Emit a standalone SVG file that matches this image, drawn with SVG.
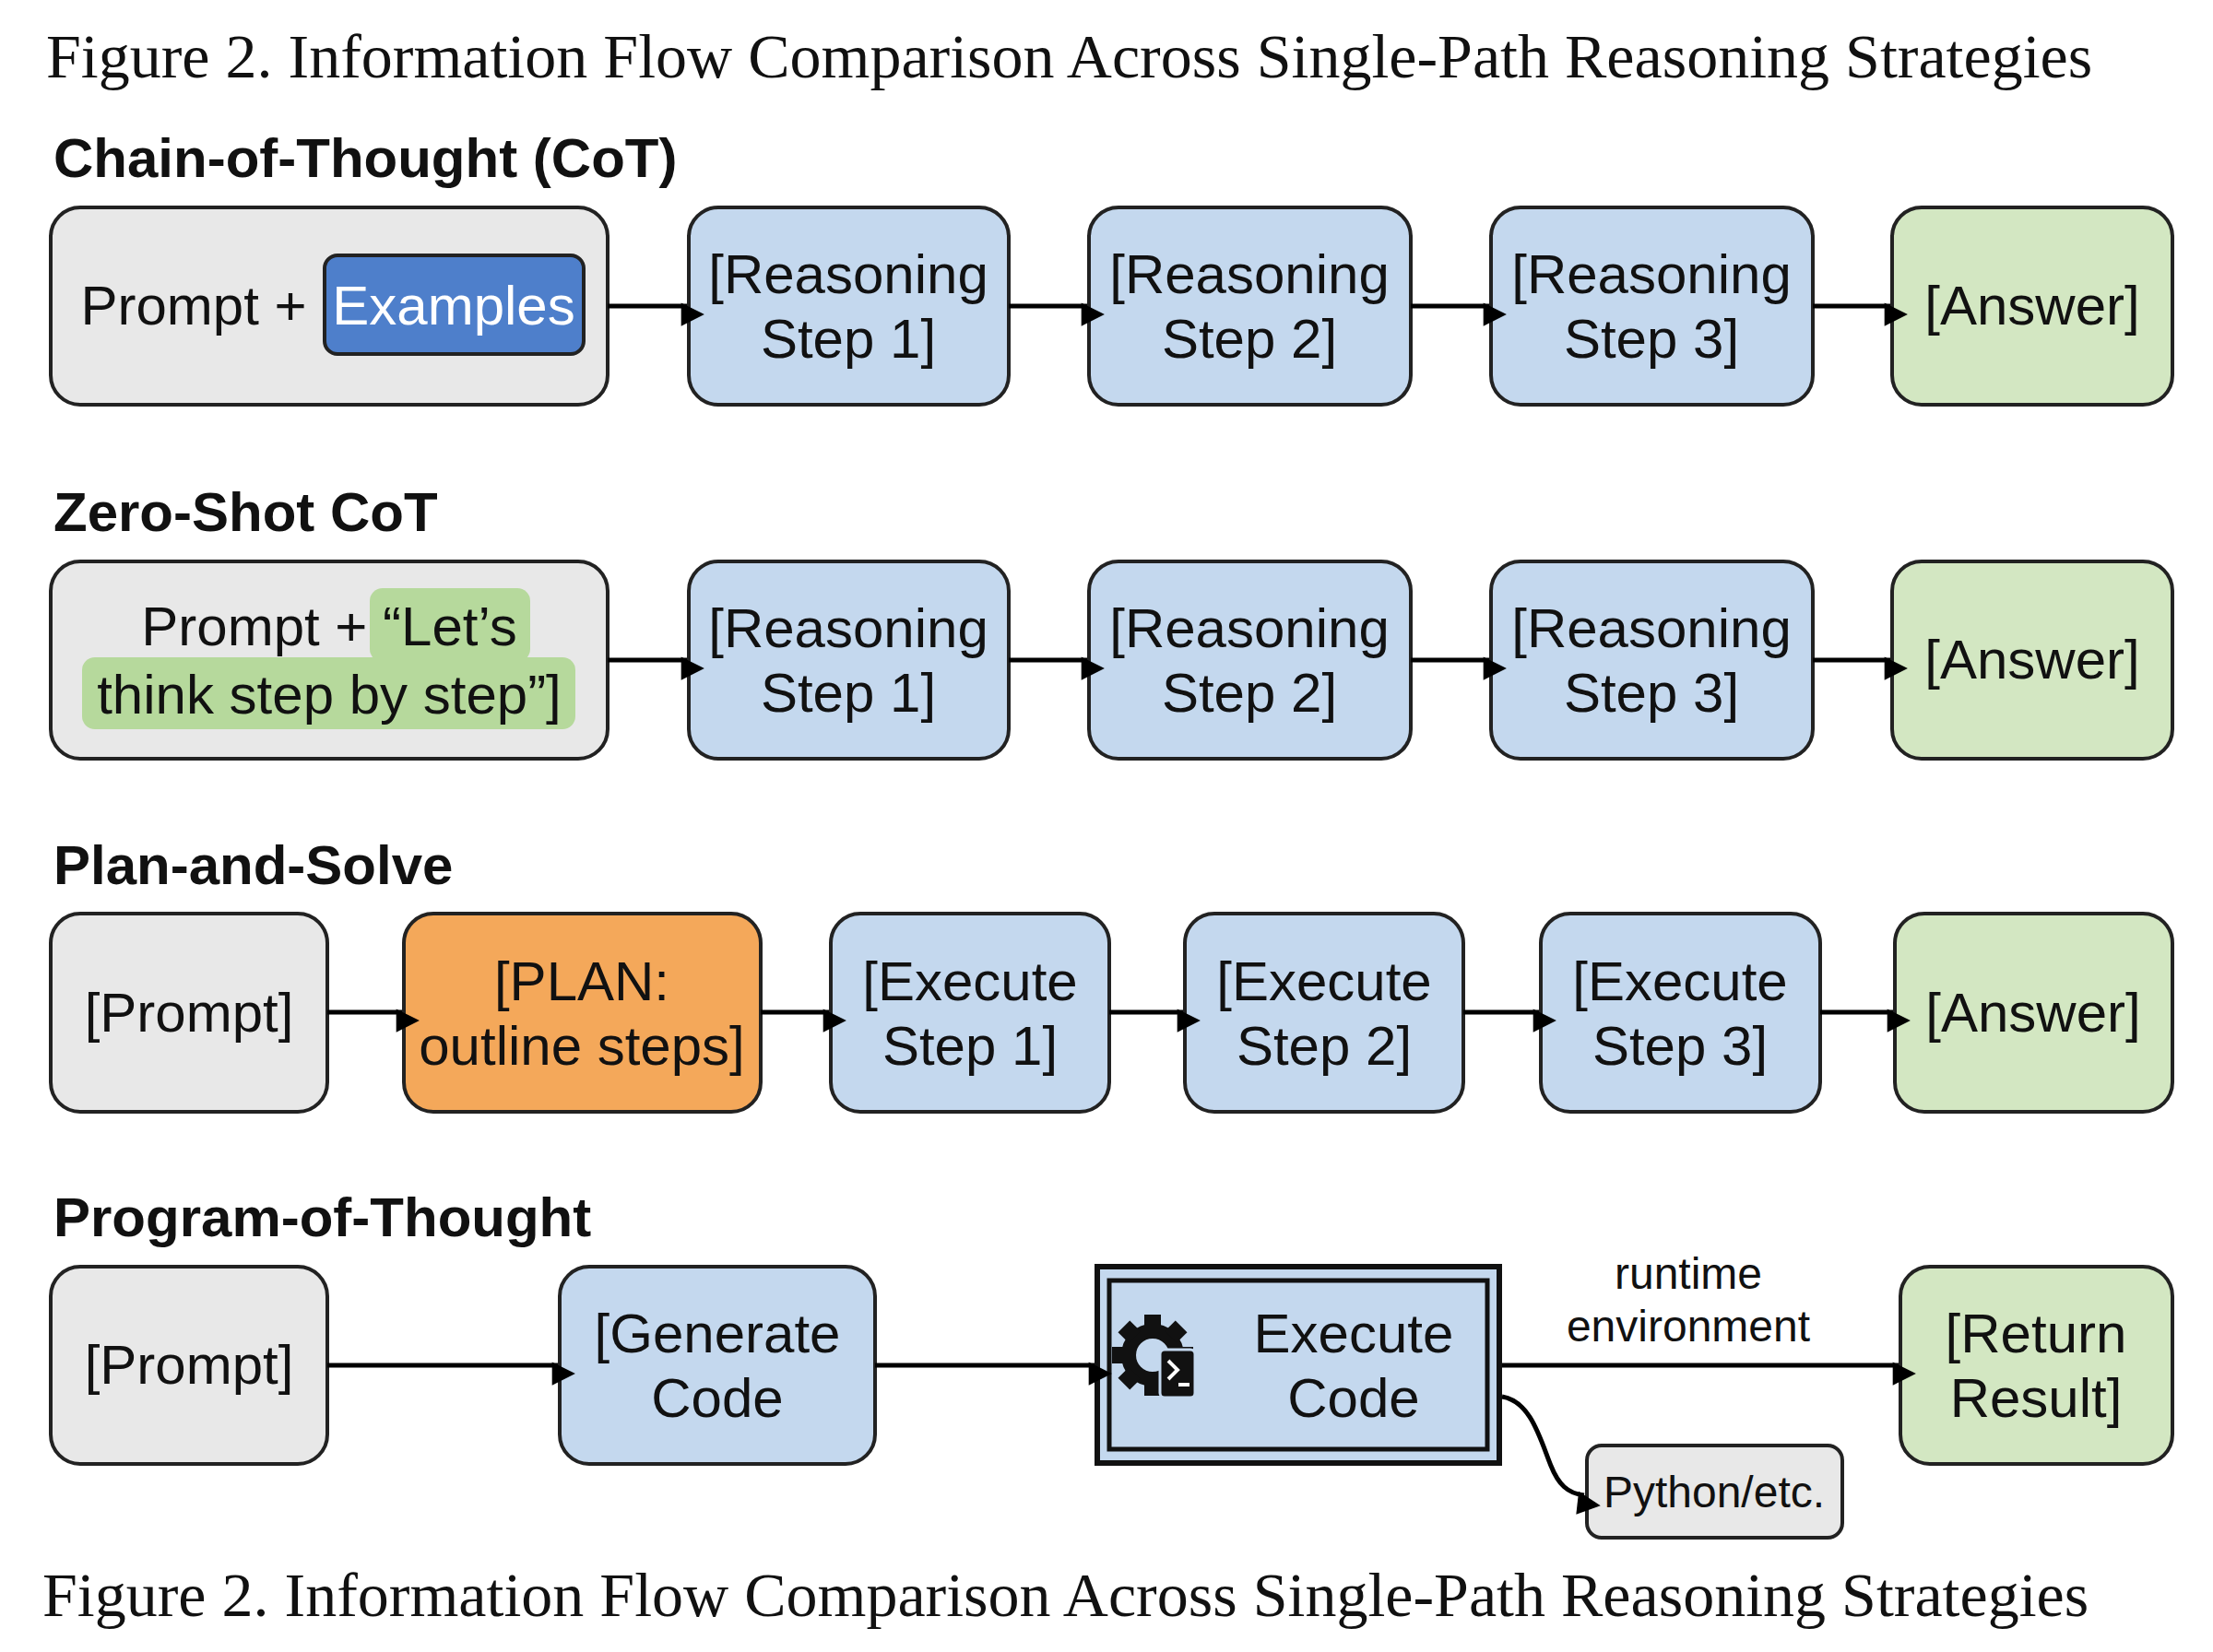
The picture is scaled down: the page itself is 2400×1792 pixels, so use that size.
<svg xmlns="http://www.w3.org/2000/svg" width="2400" height="1792" viewBox="0 0 2400 1792">
<style>
.cap{font-family:"Liberation Serif",serif;font-size:68px;fill:#111}
.h{font-family:"Liberation Sans",Arial,sans-serif;font-size:60px;font-weight:bold;fill:#111}
.t{font-family:"Liberation Sans",Arial,sans-serif;font-size:60px;fill:#111;text-anchor:middle}
.s{font-family:"Liberation Sans",Arial,sans-serif;font-size:48px;fill:#111;text-anchor:middle}
.g{fill:#e8e8e8;stroke:#222;stroke-width:4}
.b{fill:#c4d8ee;stroke:#222;stroke-width:4}
.gr{fill:#d3e7c2;stroke:#222;stroke-width:4}
.o{fill:#f4a85a;stroke:#222;stroke-width:4}
.c{stroke:#000;stroke-width:5;fill:none;marker-end:url(#a)}
</style>
<defs><marker id="a" viewBox="0 0 10 10" refX="9" refY="5" markerWidth="7" markerHeight="7" markerUnits="userSpaceOnUse" orient="auto" style="overflow:visible"><path d="M0,0L10,5L0,10z" transform="scale(3.6) translate(-7.5,-5) translate(7.5,5) translate(-5,-5) translate(5,5)"/></marker></defs>
<rect width="2400" height="1792" fill="#fff"/>
<text class="cap" x="50" y="84">Figure 2. Information Flow Comparison Across Single-Path Reasoning Strategies</text>
<text class="cap" x="46" y="1753">Figure 2. Information Flow Comparison Across Single-Path Reasoning Strategies</text>
<text class="h" x="58" y="192">Chain-of-Thought (CoT)</text>
<text class="h" x="58" y="576">Zero-Shot CoT</text>
<text class="h" x="58" y="959">Plan-and-Solve</text>
<text class="h" x="58" y="1341">Program-of-Thought</text>

<g id="cot_prompt"><rect class="g" x="55" y="225" width="604" height="214" rx="32"/><rect x="352" y="277" width="281" height="107" rx="14" fill="#4e7fcb" stroke="#222" stroke-width="4"/><text class="t" x="210" y="352">Prompt +</text><text class="t" x="492" y="352" style="fill:#fff">Examples</text></g>
<g id="cot_s1"><rect class="b" x="747" y="225" width="347" height="214" rx="32"/><text class="t" x="920" y="318">[Reasoning</text><text class="t" x="920" y="388">Step 1]</text></g>
<g id="cot_s2"><rect class="b" x="1181" y="225" width="349" height="214" rx="32"/><text class="t" x="1355" y="318">[Reasoning</text><text class="t" x="1355" y="388">Step 2]</text></g>
<g id="cot_s3"><rect class="b" x="1617" y="225" width="349" height="214" rx="32"/><text class="t" x="1791" y="318">[Reasoning</text><text class="t" x="1791" y="388">Step 3]</text></g>
<g id="cot_ans"><rect class="gr" x="2052" y="225" width="304" height="214" rx="32"/><text class="t" x="2204" y="352">[Answer]</text></g>

<g id="zs_prompt"><rect class="g" x="55" y="609" width="604" height="214" rx="32"/><rect x="401" y="638" width="174" height="80" rx="14" fill="#b6d99c"/><rect x="89" y="713" width="535" height="78" rx="14" fill="#b6d99c"/><text class="t" x="357" y="700">Prompt + “Let’s</text><text class="t" x="357" y="774">think step by step”]</text></g>
<g id="zs_s1"><rect class="b" x="747" y="609" width="347" height="214" rx="32"/><text class="t" x="920" y="702">[Reasoning</text><text class="t" x="920" y="772">Step 1]</text></g>
<g id="zs_s2"><rect class="b" x="1181" y="609" width="349" height="214" rx="32"/><text class="t" x="1355" y="702">[Reasoning</text><text class="t" x="1355" y="772">Step 2]</text></g>
<g id="zs_s3"><rect class="b" x="1617" y="609" width="349" height="214" rx="32"/><text class="t" x="1791" y="702">[Reasoning</text><text class="t" x="1791" y="772">Step 3]</text></g>
<g id="zs_ans"><rect class="gr" x="2052" y="609" width="304" height="214" rx="32"/><text class="t" x="2204" y="736">[Answer]</text></g>

<g id="ps_prompt"><rect class="g" x="55" y="991" width="300" height="215" rx="32"/><text class="t" x="205" y="1119">[Prompt]</text></g>
<g id="ps_plan"><rect class="o" x="438" y="991" width="387" height="215" rx="32"/><text class="t" x="631" y="1085">[PLAN:</text><text class="t" x="631" y="1155">outline steps]</text></g>
<g id="ps_e1"><rect class="b" x="901" y="991" width="302" height="215" rx="32"/><text class="t" x="1052" y="1085">[Execute</text><text class="t" x="1052" y="1155">Step 1]</text></g>
<g id="ps_e2"><rect class="b" x="1285" y="991" width="302" height="215" rx="32"/><text class="t" x="1436" y="1085">[Execute</text><text class="t" x="1436" y="1155">Step 2]</text></g>
<g id="ps_e3"><rect class="b" x="1671" y="991" width="303" height="215" rx="32"/><text class="t" x="1822" y="1085">[Execute</text><text class="t" x="1822" y="1155">Step 3]</text></g>
<g id="ps_ans"><rect class="gr" x="2055" y="991" width="301" height="215" rx="32"/><text class="t" x="2205" y="1119">[Answer]</text></g>

<g id="pot_prompt"><rect class="g" x="55" y="1374" width="300" height="214" rx="32"/><text class="t" x="205" y="1501">[Prompt]</text></g>
<g id="pot_gen"><rect class="b" x="607" y="1374" width="342" height="214" rx="32"/><text class="t" x="778" y="1467">[Generate</text><text class="t" x="778" y="1537">Code</text></g>
<g id="pot_exec"><rect x="1190" y="1374" width="436" height="213" fill="#c4d8ee" stroke="#111" stroke-width="6"/><rect x="1203" y="1389" width="410" height="183" fill="none" stroke="#111" stroke-width="5"/>
<g transform="translate(1250,1470)"><circle cx="0" cy="0" r="26" fill="none" stroke="#111" stroke-width="16"/><g fill="#111"><rect x="-9" y="-44" width="18" height="16"/><rect x="-9" y="28" width="18" height="16"/><rect x="-44" y="-9" width="16" height="18"/><rect x="28" y="-9" width="16" height="18"/><rect x="-9" y="-44" width="18" height="16" transform="rotate(45)"/><rect x="-9" y="-44" width="18" height="16" transform="rotate(-45)"/><rect x="-9" y="-44" width="18" height="16" transform="rotate(135)"/><rect x="-9" y="-44" width="18" height="16" transform="rotate(-135)"/></g>
<rect x="8" y="-6" width="38" height="52" rx="5" fill="#111" stroke="#c4d8ee" stroke-width="3"/><path d="M17,6 L27,16 L17,26 M28,32 H40" stroke="#fff" stroke-width="4" fill="none"/></g>
<text class="t" x="1468" y="1467">Execute</text><text class="t" x="1468" y="1537">Code</text></g>
<g id="pot_ret"><rect class="gr" x="2061" y="1374" width="295" height="214" rx="32"/><text class="t" x="2208" y="1467">[Return</text><text class="t" x="2208" y="1537">Result]</text></g>
<g id="pot_py"><rect class="g" x="1721" y="1568" width="277" height="100" rx="16"/><text class="s" x="1859" y="1635">Python/etc.</text></g>
<text class="s" x="1831" y="1398">runtime</text><text class="s" x="1831" y="1455">environment</text>

<g id="connectors">
<path class="c" d="M659,332H745"/><path class="c" d="M1094,332H1179"/><path class="c" d="M1530,332H1615"/><path class="c" d="M1966,332H2050"/>
<path class="c" d="M659,716H745"/><path class="c" d="M1094,716H1179"/><path class="c" d="M1530,716H1615"/><path class="c" d="M1966,716H2050"/>
<path class="c" d="M355,1098H436"/><path class="c" d="M825,1098H899"/><path class="c" d="M1203,1098H1283"/><path class="c" d="M1587,1098H1669"/><path class="c" d="M1974,1098H2053"/>
<path class="c" d="M355,1481H605"/><path class="c" d="M949,1481H1187"/><path class="c" d="M1629,1481H2059"/>
<path class="c" d="M1629,1515C1660,1520 1670,1560 1682,1590 C1690,1610 1700,1620 1718,1622"/>
</g>
</svg>
